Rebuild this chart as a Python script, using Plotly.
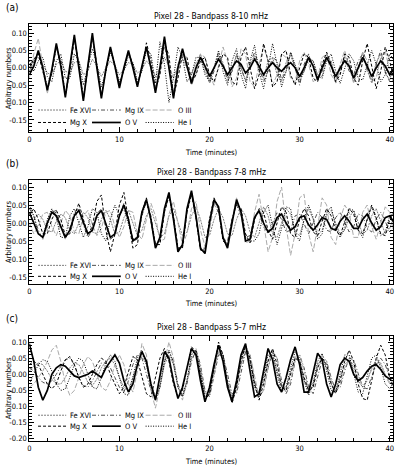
import plotly.graph_objects as go

# Band-passed intensity curves, pixel 28 — values in units of 1e-3 (arbitrary numbers),
# one sample every 0.5 minute starting at t = 0.
STEP_MIN = 0.5

IONS = ["Fe XVI", "Mg IX", "O III", "Mg X", "O V", "He I"]
PANEL_TAGS = ["(a)", "(b)", "(c)"]
BANDS = ["8-10", "7-8", "5-7"]
X_TICKS = [0, 10, 20, 30, 40]
Y_TICKS_AB = [0.10, 0.05, 0.00, -0.05, -0.10, -0.15]
Y_TICKS_C = [0.10, 0.05, 0.00, -0.05, -0.10, -0.15, -0.20]

# ---------------- (a) 8-10 mHz ----------------
FE16_A = [10, 25, 30, 10, -15, -20, 10, 20, -10, -15,
          15, 20, -20, -10, 25, 5, -25, 0, 20, 5,
          -20, -5, 15, 10, -15, -5, 20, 5, -25, 0,
          30, 5, -30, 5, 25, 0, -20, 15, 30, -10,
          -35, 0, 35, 10, -30, -10, 40, 0, -35, 5,
          35, -10, -30, 20, 30, -20, -40, 15, 35, 0,
          -30, -10, 25, 20, -20, -25, 30, 20, -30, -15,
          35, 10, -40, 0, 45, -10, -35, 15, 40, -15,
          -35, 20]
MG9_A = [-10, 20, 45, 5, -55, -10, 60, 5, -75, 0,
         80, 5, -85, 0, 85, 5, -80, 0, 50, 5,
         -48, 0, 40, 5, -50, 0, 55, 5, -60, 0,
         65, 0, -70, 10, 40, 10, -35, 0, 40, 5,
         -45, -10, 45, 15, -40, -10, 35, 0, -40, 10,
         45, 5, -40, -10, 30, 20, -35, -10, 45, 0,
         -50, 10, 40, 0, -30, -10, 40, 10, -45, 0,
         30, -10, -20, 20, 40, 0, -45, 10, 50, -10,
         -40, 10]
O3_A = [-30, 40, 85, 0, -75, -10, 65, 10, -80, 0,
        90, 0, -92, 10, 90, 0, -78, 0, 55, 0,
        -52, 0, 48, 0, -50, 5, 55, 0, -65, 10,
        80, 0, -80, 5, 45, 10, -50, -20, 40, 30,
        -20, -50, 10, 60, 20, -55, -30, 55, 40, -40,
        -55, 10, 60, 20, -50, -20, 40, 30, -30, -40,
        20, 45, 10, -40, -30, 30, 40, -20, -40, 10,
        50, 0, -45, -10, 45, 20, -40, -30, 30, 50,
        -10, -50]
MG10_A = [0, 25, 40, -10, -60, -15, 60, 20, -78, -10,
          85, 10, -90, 0, 88, 10, -80, -10, 55, 10,
          -50, -5, 45, 10, -50, 0, 72, 20, -62, -20,
          72, 35, -82, -30, 40, 30, -40, -20, 20, 30,
          -20, -40, 0, 40, 30, -40, -50, 30, 60, 0,
          -60, -20, 70, 20, -55, -40, 40, 50, -20, -50,
          0, 40, 30, -30, -40, 10, 45, 10, -40, -20,
          40, 30, -30, -50, 20, 70, 0, -60, -10, 60,
          20, -40]
O5_A = [-20, 5, 50, 0, -65, -5, 70, 5, -85, 0,
        95, 0, -95, 5, 100, 0, -88, -5, 60, 5,
        -58, 0, 50, 0, -55, 5, 60, 0, -72, 0,
        90, 0, -88, 0, 55, 5, -45, 0, 30, 5,
        -25, 0, 25, 5, -20, 0, 20, 10, -15, 0,
        25, 5, -20, 0, 15, 0, -10, 5, 15, 0,
        -25, 0, 30, 5, -35, 0, 30, 5, -25, 0,
        20, 5, -30, 0, 30, 5, -25, 0, 20, 5,
        -20, 0]
HE1_A = [20, -10, 20, 30, -25, -40, 20, 40, -30, -30,
         40, 20, -50, 0, 55, 10, -55, -10, 45, 10,
         -40, -10, 35, 15, -40, -10, 50, 40, -45, 75,
         10, -100, -30, 60, 30, -40, -20, 30, 30, -20,
         -40, 0, 50, -10, -50, 20, 55, -20, -60, 20,
         65, -10, -60, 0, 70, 10, -55, -10, 45, 10,
         -40, -10, 30, 20, -25, -30, 20, 40, -10, -45,
         0, 40, 20, -30, -35, 10, 50, 10, -40, -20,
         40, 20]

# ---------------- (b) 7-8 mHz ----------------
FE16_B = [-10, 10, 25, 10, -20, -25, 5, 25, 15, -20,
          -30, 0, 30, 15, -25, -30, 10, 35, 10, -30,
          -25, 15, 35, 0, -35, -20, 20, 40, 0, -40,
          -30, 20, 40, 0, -35, -25, 20, 45, 10, -40,
          -35, 10, 40, 15, -30, -35, 10, 40, 20, -25,
          -40, 0, 45, 20, -30, -40, 0, 40, 25, -25,
          -35, 10, 40, 10, -35, -20, 20, 35, 0, -30,
          -20, 15, 35, 5, -30, -20, 20, 40, 5, -30,
          -15, 20]
MG9_B = [40, 20, -20, -45, -10, 30, 35, -10, -45, -15,
         30, 40, -5, -40, -20, 25, 40, 0, -45, -35,
         20, 55, 15, -50, -45, 20, 60, 20, -60, -50,
         30, 75, 20, -70, -65, 30, 80, 10, -70, -70,
         10, 55, 30, -45, -50, 10, 50, 20, -40, -35,
         20, 30, -10, -30, 0, 30, 10, -25, -20, 20,
         25, -5, -30, 0, 30, 15, -20, -25, 15, 30,
         0, -25, -10, 25, 20, -15, -25, 10, 30, 5,
         -25, -10]
O3_B = [0, -30, -10, 25, 30, -10, -35, 0, 35, 20,
        -25, -30, 20, 35, -5, -35, -15, 30, 35, -10,
        -40, -10, 35, 30, -30, -45, 10, 55, 20, -50,
        -45, 25, 60, 0, -60, -30, 40, 60, -20, -65,
        -20, 50, 40, -40, -60, 10, 70, 20, -55, -50,
        30, 80, 0, -80, -40, 60, 100, -10, -90, -30,
        70, 80, -30, -80, -10, 70, 50, -40, -60, 10,
        50, 30, -40, -40, 30, 50, -10, -45, 0, 45,
        30, -30]
MG10_B = [20, 40, 10, -30, -30, 10, 35, 10, -35, -30,
          20, 55, 10, -30, -10, 60, 78, -20, -80, -30,
          50, 85, 10, -70, -60, 30, 70, 10, -60, -60,
          30, 75, 20, -70, -70, 30, 80, 15, -75, -80,
          10, 70, 40, -50, -60, 10, 55, 40, -30, -55,
          10, 40, 30, -20, -45, 0, 45, 30, -30, -40,
          10, 40, 20, -25, -35, 5, 40, 20, -20, -35,
          5, 40, 25, -20, -30, 10, 50, 15, -30, -35,
          10, 30]
O5_B = [30, 0, -30, -40, 0, 30, 20, -10, -40, -20,
        20, 35, 0, -30, -20, 20, 35, 0, -40, -30,
        20, 50, 10, -50, -40, 30, 65, 10, -70, -40,
        40, 85, 10, -80, -60, 40, 90, 20, -70, -85,
        0, 65, 45, -40, -70, 0, 65, 30, -50, -45,
        15, 35, 0, -25, -15, 15, 25, 0, -20, -10,
        15, 20, -5, -20, -5, 15, 10, -15, -20, 5,
        20, 5, -15, -15, 10, 25, 0, -20, -10, 15,
        20, 0]
HE1_B = [50, 20, -30, -40, 10, 40, 15, -40, -40, 20,
         40, 0, -40, -10, 40, 30, -30, -50, 10, 50,
         20, 40, 0, -45, -40, 25, 60, 10, -65, -45,
         35, 80, 10, -75, -65, 35, 85, 15, -75, -75,
         5, 60, 40, -45, -60, 5, 55, 35, -40, -50,
         -50, -30, 30, 50, -10, -60, -15, 45, 40, -30,
         -50, 10, 50, 15, -45, -30, 30, 45, -10, -40,
         -15, 40, 35, -20, -40, 10, 45, 10, -35, -25,
         20, 30]

# ---------------- (c) 5-7 mHz ----------------
FE16_C = [10, 25, 35, 30, 10, -15, -30, -30, -10, 20,
          35, 30, 5, -25, -35, -15, 20, 40, 50, 30,
          -10, -40, -50, -10, 30, 55, 30, -30, -70, -40,
          30, 60, 30, -40, -65, -20, 50, 65, 10, -60,
          -55, 10, 70, 45, -20, -70, -30, 30, 70, 40,
          -30, -65, -20, 45, 60, 10, -40, -40, 10, 55,
          40, -20, -50, -25, 30, 50, 20, -30, -50, -10,
          30, 45, 20, -20, -40, -20, 20, 45, 35, 0,
          -25, -30]
MG9_C = [20, 10, -10, -25, -30, -20, 0, 25, 45, 50,
         30, -10, -35, -40, -20, 10, 35, 35, 20, -10,
         -40, -55, -20, 30, 60, 50, 0, -50, -75, -30,
         40, 70, 40, -30, -70, -30, 40, 75, 30, -50,
         -70, -10, 60, 60, 0, -60, -60, 10, 70, 60,
         -20, -70, -50, 20, 70, 50, -20, -60, -30, 40,
         60, 20, -40, -60, -10, 45, 40, -10, -50, -40,
         10, 50, 45, 0, -40, -45, -10, 30, 50, 30,
         -10, -40]
O3_C = [-40, -30, -10, 10, 40, 75, 90, 40, -30, -65,
        -50, -10, 30, 55, 40, 0, -40, -50, -20, 30,
        60, 30, -30, -55, 10, 95, 60, -50, -105, -40,
        40, 100, 50, -40, -80, -20, 60, 80, 20, -60,
        -65, 0, 75, 60, -20, -75, -50, 30, 85, 60,
        -10, -70, -50, 20, 75, 50, -30, -55, -20, 45,
        60, 10, -50, -40, 20, 60, 40, -20, -50, -30,
        20, 45, 30, -10, -35, -20, 15, 40, 30, -5,
        -30, -20]
MG10_C = [30, 40, 30, 0, -30, -45, -30, 10, 45, 55,
          30, -10, -40, -30, 0, 30, 50, 40, 0, -30,
          -60, -40, 10, 55, 45, -10, -60, -70, -10, 50,
          80, 40, -30, -70, -50, 20, 85, 70, -10, -80,
          -60, 20, 100, 60, -30, -90, -40, 40, 90, 50,
          -30, -80, -30, 40, 80, 30, -40, -50, 0, 50,
          40, -10, -50, -40, 20, 50, 30, -30, -60, -20,
          40, 75, 40, -30, -75, -80, -20, 50, 90, 60,
          -10, -50]
O5_C = [95, 40, -40, -80, -50, 0, 20, 30, 25, 10,
        -5, -10, -5, 0, 10, 0, -10, 20, 40, 60,
        35, -20, -55, -30, 30, 70, 40, -30, -80, -10,
        70, 50, -20, -75, -40, 20, 80, 60, -20, -85,
        -40, 30, 90, 40, -40, -85, -20, 60, 95, 10,
        -70, -60, 10, 80, 45, -30, -55, -10, 45, 85,
        30, -55, -55, 10, 65, 45, -30, -70, -30, 30,
        50, 40, 0, -20, -10, 10, 25, 30, 15, -5,
        -15, -10]
HE1_C = [-30, 0, 30, 45, 40, 10, -30, -50, -45, -10,
         30, 50, 40, 0, -40, -45, -10, 35, 60, 40,
         -10, -60, -65, -10, 50, 75, 30, -40, -80, -40,
         40, 75, 35, -40, -70, -20, 60, 75, 10, -70,
         -60, 20, 90, 60, -30, -80, -30, 50, 85, 40,
         -40, -70, -10, 60, 70, 0, -55, -40, 20, 70,
         50, -20, -65, -30, 40, 65, 10, -50, -55, 0,
         60, 60, 0, -55, -60, 0, 50, 60, 20, -30,
         -45, -20]

SERIES = [
    [FE16_A, MG9_A, O3_A, MG10_A, O5_A, HE1_A],
    [FE16_B, MG9_B, O3_B, MG10_B, O5_B, HE1_B],
    [FE16_C, MG9_C, O3_C, MG10_C, O5_C, HE1_C],
]

# IDL-like line styles
STYLES = {
    "Fe XVI": dict(color="#7f7f7f", width=1, dash="2px,1px"),
    "Mg IX": dict(color="#505050", width=1, dash="4px,2px,1px,2px"),
    "O III": dict(color="#aaaaaa", width=1, dash="5px,2px"),
    "Mg X": dict(color="black", width=1, dash="3px,2px"),
    "O V": dict(color="black", width=1.7),
    "He I": dict(color="black", width=1, dash="1px,1.5px"),
}

# page geometry in pixels (figure is 398 x 469)
W, H = 398, 469
X_LEFT, X_RIGHT = 27.5, 394.3
BOXES = [(24.5, 133), (181, 285), (337, 443)]          # top, bottom
Y_RANGES = [[-0.186, 0.125], [-0.169, 0.119], [-0.207, 0.12]]
LEG_ROWS = [(110.5, 123), (266.5, 277.5), (417, 428)]
LEG_COLS = [(36.3, 64.7), (90.7, 119.7), (144.7, 173)]
FONT = "DejaVu Sans Condensed, Liberation Sans Narrow, DejaVu Sans, sans-serif"


def px(x):
    return x / W


def py(y):
    return 1 - y / H


fig = go.Figure()
layout = dict(width=W, height=H, margin=dict(l=0, r=0, t=0, b=0),
              paper_bgcolor="white", plot_bgcolor="white", showlegend=False,
              font=dict(family=FONT, size=7.5, color="black"))
shapes, annotations = [], []

for k in range(3):
    sfx = "" if k == 0 else str(k + 1)
    top, bot = BOXES[k]
    for ion, vals in zip(IONS, SERIES[k]):
        t = [i * STEP_MIN for i in range(len(vals))]
        y = [v / 1000 for v in vals]
        fig.add_trace(go.Scatter(x=t, y=y, mode="lines", name=ion, line=STYLES[ion],
                                 xaxis="x" + sfx, yaxis="y" + sfx, hoverinfo="skip"))

    yt = Y_TICKS_C if k == 2 else Y_TICKS_AB
    layout["xaxis" + sfx] = dict(
        domain=[px(X_LEFT), px(X_RIGHT)], anchor="y" + sfx, range=[0, 40.4],
        tickvals=X_TICKS, ticktext=[str(v) for v in X_TICKS],
        ticks="inside", ticklen=5, tickwidth=1, tickcolor="black",
        minor=dict(dtick=2, ticks="inside", ticklen=3, tickcolor="black"),
        showline=True, linecolor="black", linewidth=1, mirror="ticks",
        showgrid=False, zeroline=False, tickfont=dict(size=7.5),
    )
    layout["yaxis" + sfx] = dict(
        domain=[py(bot), py(top)], anchor="x" + sfx, range=Y_RANGES[k],
        tickvals=yt, ticktext=[f"{v:.2f}" for v in yt],
        ticks="inside", ticklen=5, tickwidth=1, tickcolor="black",
        minor=dict(dtick=0.01, ticks="inside", ticklen=3, tickcolor="black"),
        showline=True, linecolor="black", linewidth=1, mirror="ticks",
        showgrid=False, zeroline=False, tickfont=dict(size=7.5),
    )

    # panel tag, title, axis titles
    annotations.append(dict(text=PANEL_TAGS[k], x=px(2), y=py(top - 17), xref="paper", yref="paper",
                            xanchor="left", yanchor="middle", showarrow=False, font=dict(size=10)))
    annotations.append(dict(text=f"Pixel 28 - Bandpass {BANDS[k]} mHz", x=px((X_LEFT + X_RIGHT) / 2),
                            y=py(top - 8.5), xref="paper", yref="paper", xanchor="center",
                            yanchor="middle", showarrow=False, font=dict(size=8.5)))
    annotations.append(dict(text="Time (minutes)", x=px((X_LEFT + X_RIGHT) / 2), y=py(bot + 20),
                            xref="paper", yref="paper", xanchor="center", yanchor="middle",
                            showarrow=False, font=dict(size=7.5)))
    annotations.append(dict(text="Arbitrary numbers", x=px(6), y=py((top + bot) / 2), textangle=-90,
                            xref="paper", yref="paper", xanchor="center", yanchor="middle",
                            showarrow=False, font=dict(size=7.5)))

    # in-plot legend, two rows of three
    for j, ion in enumerate(IONS):
        row, col = divmod(j, 3)
        ly = py(LEG_ROWS[k][row])
        x0, x1 = LEG_COLS[col]
        st = STYLES[ion]
        shapes.append(dict(type="line", xref="paper", yref="paper", x0=px(x0), x1=px(x1), y0=ly, y1=ly,
                           line=dict(color=st["color"], width=st["width"], dash=st.get("dash", "solid"))))
        annotations.append(dict(text=ion, x=px(x1 + 2), y=ly, xref="paper", yref="paper",
                                xanchor="left", yanchor="middle", showarrow=False, font=dict(size=7.5)))

layout["shapes"] = shapes
layout["annotations"] = annotations
fig.update_layout(**layout)

# drop the browser's default body margin so the 398x469 figure fills the window
fig.write_html("out.html", config={"displayModeBar": False},
               post_script="document.body.style.margin='0';")
